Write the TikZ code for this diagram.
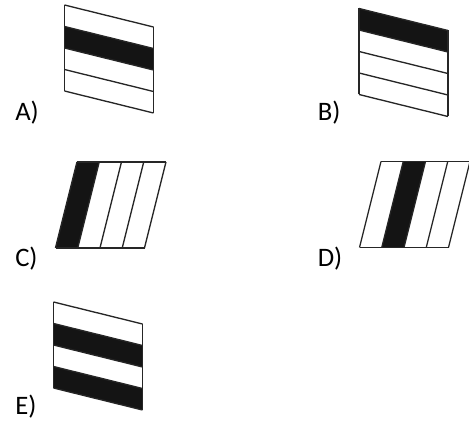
\documentclass[tikz,border=0pt]{standalone}
\usepackage{fontspec}
\setmainfont{Carlito}
\usetikzlibrary{positioning}

\tikzset{
    frame/.style={black!85, line width=1pt},
    band/.style={fill=black!92},
    choice/.style={font=\fontsize{20}{22}\selectfont, inner sep=0pt, anchor=base west}
}

\begin{document}
\begin{tikzpicture}[x=0.75pt, y=-0.75pt]
            \useasboundingbox (0,0) rectangle (469,424);
            % Define dimensions
            \def\panelwidth{89}
            \def\panelheight{86}
            \def\tilt{22}
            \def\slant{21.5}
            % Panel A: second stripe dark
            \begin{scope}[shift={(64.5,5)}]
                \fill[band] (0,\panelheight/4) -- (\panelwidth,\panelheight/4+\tilt) -- (\panelwidth,\panelheight/2+\tilt) -- (0,\panelheight/2) -- cycle;
                \foreach \k in {0,1,...,4}
                    \draw[frame] (0,\k*\panelheight/4) -- (\panelwidth,\k*\panelheight/4+\tilt);
                \draw[frame] (0,0) -- (0,\panelheight) (\panelwidth,\tilt) -- (\panelwidth,\panelheight+\tilt);
            \end{scope}
            % Panel B: top stripe dark
            \begin{scope}[shift={(359,8.5)}]
                \fill[band] (0,0) -- (\panelwidth,\tilt) -- (\panelwidth,\panelheight/4+\tilt) -- (0,\panelheight/4) -- cycle;
                \foreach \k in {0,1,...,4}
                    \draw[frame] (0,\k*\panelheight/4) -- (\panelwidth,\k*\panelheight/4+\tilt);
                \draw[frame] (0,0) -- (0,\panelheight) (\panelwidth,\tilt) -- (\panelwidth,\panelheight+\tilt);
            \end{scope}
            % Panel C: first slanted stripe dark
            \begin{scope}[shift={(77,162)}]
                \fill[band] (0,0) -- (\panelwidth/4,0) -- (\panelwidth/4-\slant,\panelheight) -- (-\slant,\panelheight) -- cycle;
                \foreach \k in {0,1,...,4}
                    \draw[frame] (\k*\panelwidth/4,0) -- (\k*\panelwidth/4-\slant,\panelheight);
                \draw[frame] (0,0) -- (\panelwidth,0) (-\slant,\panelheight) -- (\panelwidth-\slant,\panelheight);
            \end{scope}
            % Panel D: second slanted stripe dark
            \begin{scope}[shift={(381,161.5)}]
                \fill[band] (\panelwidth/4,0) -- (\panelwidth/2,0) -- (\panelwidth/2-\slant,\panelheight) -- (\panelwidth/4-\slant,\panelheight) -- cycle;
                \foreach \k in {0,1,...,4}
                    \draw[frame] (\k*\panelwidth/4,0) -- (\k*\panelwidth/4-\slant,\panelheight);
                \draw[frame] (0,0) -- (\panelwidth,0) (-\slant,\panelheight) -- (\panelwidth-\slant,\panelheight);
            \end{scope}
            % Panel E: second and fourth stripes dark
            \begin{scope}[shift={(53.5,302)}]
                \foreach \k in {1,3}
                    \fill[band] (0,\k*\panelheight/4) -- (\panelwidth,\k*\panelheight/4+\tilt) -- (\panelwidth,\k*\panelheight/4+\panelheight/4+\tilt) -- (0,\k*\panelheight/4+\panelheight/4) -- cycle;
                \foreach \k in {0,1,...,4}
                    \draw[frame] (0,\k*\panelheight/4) -- (\panelwidth,\k*\panelheight/4+\tilt);
                \draw[frame] (0,0) -- (0,\panelheight) (\panelwidth,\tilt) -- (\panelwidth,\panelheight+\tilt);
            \end{scope}
            % Choice labels
            \node[choice] (labelA) at (15,120.5) {A)};
            \node[choice] (labelB) at (317.5,120.5) {B)};
            \node[choice] (labelC) at (15,266.5) {C)};
            \node[choice] (labelD) at (317.5,266.5) {D)};
            \node[choice] (labelE) at (15,415) {E)};
        \end{tikzpicture}
\end{document}
